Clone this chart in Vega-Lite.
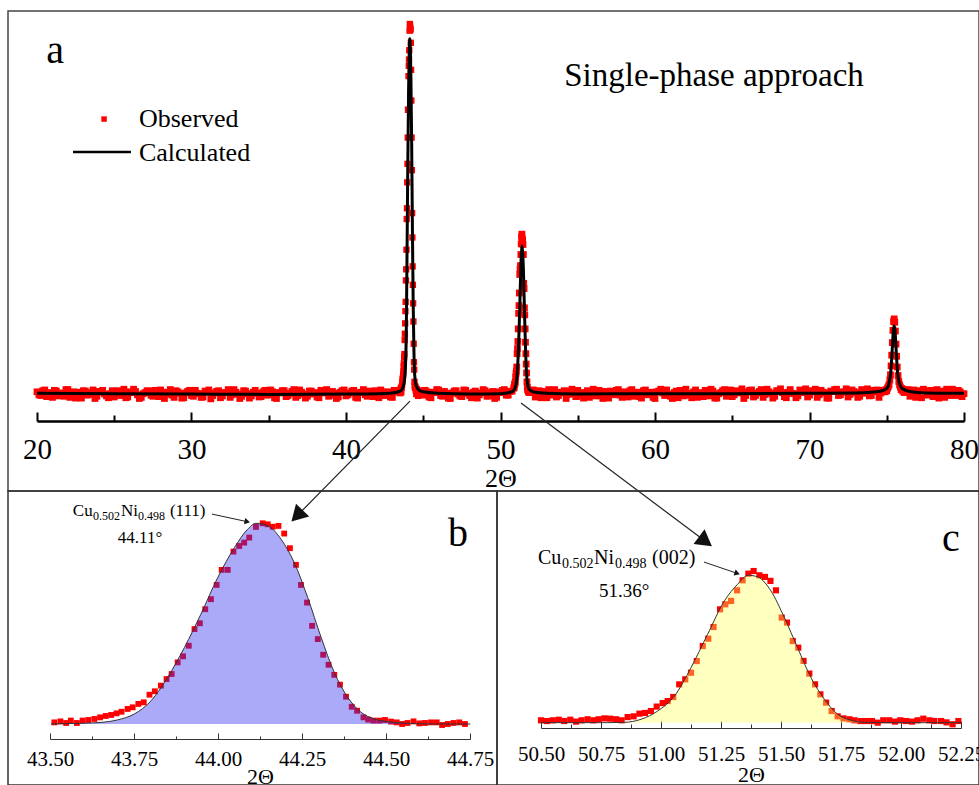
{
"$schema":"https://vega.github.io/schema/vega-lite/v6.json",
"padding":{"left":7,"top":10,"right":0,"bottom":0},
"background":"white",
"config":{"font":"Liberation Serif","axis":{"labelFont":"Liberation Serif","titleFont":"Liberation Serif"},"style":{"guide-label":{"font":"Liberation Serif"},"guide-title":{"font":"Liberation Serif"}}},
"datasets":{
"abg":[{"t":20,"v":0.6},{"t":20.125,"v":-0.2},{"t":20.25,"v":-0.4},{"t":20.375,"v":0.9},{"t":20.5,"v":1.1},{"t":20.625,"v":-0.7},{"t":20.75,"v":0.2},{"t":20.875,"v":0.4},{"t":21,"v":-0.9},{"t":21.125,"v":1.0},{"t":21.25,"v":0.8},{"t":21.375,"v":-0.5},{"t":21.5,"v":0.3},{"t":21.625,"v":0.1},{"t":21.75,"v":-0.6},{"t":21.875,"v":1.2},{"t":22,"v":1.2},{"t":22.125,"v":-0.9},{"t":22.25,"v":0.0},{"t":22.375,"v":0.6},{"t":22.5,"v":-1.1},{"t":22.625,"v":0.3},{"t":22.75,"v":0.5},{"t":22.875,"v":-1.1},{"t":23,"v":0.9},{"t":23.125,"v":0.8},{"t":23.25,"v":-0.3},{"t":23.375,"v":-0.1},{"t":23.5,"v":0.4},{"t":23.625,"v":1.1},{"t":23.75,"v":-1.2},{"t":23.875,"v":-0.6},{"t":24,"v":0.7},{"t":24.125,"v":0.5},{"t":24.25,"v":1.0},{"t":24.375,"v":0.0},{"t":24.5,"v":-0.5},{"t":24.625,"v":-1.0},{"t":24.75,"v":0.1},{"t":24.875,"v":0.9},{"t":25,"v":-0.8},{"t":25.125,"v":0.2},{"t":25.25,"v":0.9},{"t":25.375,"v":-0.4},{"t":25.5,"v":0.3},{"t":25.625,"v":1.3},{"t":25.75,"v":-1.0},{"t":25.875,"v":-0.8},{"t":26,"v":0.6},{"t":26.125,"v":0.4},{"t":26.25,"v":1.3},{"t":26.375,"v":0.7},{"t":26.5,"v":-0.2},{"t":26.625,"v":-1.2},{"t":26.75,"v":-0.9},{"t":26.875,"v":0.1},{"t":27,"v":0.4},{"t":27.125,"v":0.9},{"t":27.25,"v":0.8},{"t":27.375,"v":-0.3},{"t":27.5,"v":-0.6},{"t":27.625,"v":1.0},{"t":27.75,"v":0.0},{"t":27.875,"v":-0.7},{"t":28,"v":1.1},{"t":28.125,"v":0.5},{"t":28.25,"v":-1.2},{"t":28.375,"v":-0.1},{"t":28.5,"v":0.5},{"t":28.625,"v":1.2},{"t":28.75,"v":-0.3},{"t":28.875,"v":-0.9},{"t":29,"v":0.9},{"t":29.125,"v":0.6},{"t":29.25,"v":0.2},{"t":29.375,"v":-1.1},{"t":29.5,"v":-1.0},{"t":29.625,"v":0.3},{"t":29.75,"v":0.7},{"t":29.875,"v":1.0},{"t":30,"v":-0.4},{"t":30.125,"v":-0.6},{"t":30.25,"v":1.0},{"t":30.375,"v":0.2},{"t":30.5,"v":0.1},{"t":30.625,"v":-0.9},{"t":30.75,"v":-0.8},{"t":30.875,"v":0.8},{"t":31,"v":0.6},{"t":31.125,"v":1.1},{"t":31.25,"v":-1.3},{"t":31.375,"v":-0.4},{"t":31.5,"v":0.3},{"t":31.625,"v":0.7},{"t":31.75,"v":0.9},{"t":31.875,"v":-1.0},{"t":32,"v":-0.5},{"t":32.125,"v":0.4},{"t":32.25,"v":0.4},{"t":32.375,"v":1.2},{"t":32.5,"v":-0.9},{"t":32.625,"v":-0.2},{"t":32.75,"v":1.2},{"t":32.875,"v":0.5},{"t":33,"v":0.0},{"t":33.125,"v":-1.2},{"t":33.25,"v":-0.6},{"t":33.375,"v":0.9},{"t":33.5,"v":0.8},{"t":33.625,"v":0.1},{"t":33.75,"v":-1.1},{"t":33.875,"v":-0.5},{"t":34,"v":0.5},{"t":34.125,"v":1.0},{"t":34.25,"v":0.2},{"t":34.375,"v":-0.8},{"t":34.5,"v":-0.7},{"t":34.625,"v":0.6},{"t":34.75,"v":1.0},{"t":34.875,"v":-0.3},{"t":35,"v":-0.2},{"t":35.125,"v":1.1},{"t":35.25,"v":0.6},{"t":35.375,"v":-1.0},{"t":35.5,"v":-1.2},{"t":35.625,"v":0.4},{"t":35.75,"v":0.3},{"t":35.875,"v":0.9},{"t":36,"v":0.9},{"t":36.125,"v":-0.7},{"t":36.25,"v":-0.4},{"t":36.375,"v":0.2},{"t":36.5,"v":0.7},{"t":36.625,"v":1.2},{"t":36.75,"v":-0.9},{"t":36.875,"v":-0.4},{"t":37,"v":1.1},{"t":37.125,"v":0.5},{"t":37.25,"v":0.0},{"t":37.375,"v":-1.1},{"t":37.5,"v":-0.6},{"t":37.625,"v":0.8},{"t":37.75,"v":0.8},{"t":37.875,"v":0.0},{"t":38,"v":0.4},{"t":38.125,"v":-0.8},{"t":38.25,"v":-1.0},{"t":38.375,"v":1.0},{"t":38.5,"v":0.6},{"t":38.625,"v":0.3},{"t":38.75,"v":1.2},{"t":38.875,"v":-0.6},{"t":39,"v":-0.3},{"t":39.125,"v":0.7},{"t":39.25,"v":0.2},{"t":39.375,"v":-1.2},{"t":39.5,"v":-0.8},{"t":39.625,"v":0.5},{"t":39.75,"v":0.9},{"t":39.875,"v":1.1},{"t":40,"v":-0.5},{"t":40.125,"v":-0.2},{"t":40.25,"v":0.3},{"t":40.375,"v":0.8},{"t":40.5,"v":1.0},{"t":40.625,"v":-0.9},{"t":40.75,"v":-1.1},{"t":40.875,"v":0.4},{"t":41,"v":0.5},{"t":41.125,"v":1.2},{"t":41.25,"v":-0.2},{"t":41.375,"v":-0.6},{"t":41.5,"v":0.8},{"t":41.625,"v":0.1},{"t":41.75,"v":-0.7},{"t":41.875,"v":0.9},{"t":42,"v":0.4},{"t":42.125,"v":-1.0},{"t":42.25,"v":1.1},{"t":42.375,"v":0.6},{"t":42.5,"v":-0.4},{"t":42.625,"v":0.2},{"t":42.75,"v":0.6},{"t":42.875,"v":-0.8},{"t":43,"v":-0.9},{"t":43.125,"v":1.0},{"t":43.25,"v":0.7},{"t":43.375,"v":0.5},{"t":43.5,"v":0.3},
{"t":44.75,"v":0.9},{"t":44.875,"v":0.3},{"t":45,"v":-0.3},{"t":45.125,"v":1.0},{"t":45.25,"v":0.6},{"t":45.375,"v":-0.8},{"t":45.5,"v":-1.0},{"t":45.625,"v":0.5},{"t":45.75,"v":0.4},{"t":45.875,"v":1.2},{"t":46,"v":1.1},{"t":46.125,"v":-0.4},{"t":46.25,"v":-0.6},{"t":46.375,"v":0.7},{"t":46.5,"v":0.2},{"t":46.625,"v":-1.1},{"t":46.75,"v":-1.2},{"t":46.875,"v":0.3},{"t":47,"v":0.8},{"t":47.125,"v":0.9},{"t":47.25,"v":0.0},{"t":47.375,"v":-0.5},{"t":47.5,"v":-0.7},{"t":47.625,"v":1.1},{"t":47.75,"v":1.0},{"t":47.875,"v":0.2},{"t":48,"v":-0.4},{"t":48.125,"v":-1.0},{"t":48.25,"v":0.5},{"t":48.375,"v":0.8},{"t":48.5,"v":-1.1},{"t":48.625,"v":-0.2},{"t":48.75,"v":0.3},{"t":48.875,"v":1.2},{"t":49,"v":0.9},{"t":49.125,"v":-0.6},{"t":49.25,"v":-0.5},{"t":49.375,"v":0.4},{"t":49.5,"v":0.7},{"t":49.625,"v":-1.2},{"t":49.75,"v":-0.9},{"t":49.875,"v":0.6},{"t":50,"v":0.4},{"t":50.125,"v":1.0},{"t":50.25,"v":1.2},{"t":50.375,"v":-0.3},{"t":50.5,"v":-0.3},{"t":50.625,"v":0.7},{"t":50.75,"v":0.8},
{"t":50.861,"v":1.6},{"t":50.886,"v":1.8},{"t":50.91,"v":2.6},{"t":50.933,"v":2.8},{"t":50.958,"v":3.3},{"t":50.982,"v":4.6},{"t":51.007,"v":5.6},{"t":51.028,"v":6.2},{"t":51.051,"v":7.3},{"t":51.076,"v":10.9},{"t":51.101,"v":12.3},{"t":51.125,"v":14.2},{"t":51.149,"v":17.6},{"t":51.174,"v":21.8},{"t":51.197,"v":23.9},{"t":51.219,"v":27.3},{"t":51.246,"v":32.3},{"t":51.268,"v":33.7},{"t":51.292,"v":34.7},{"t":51.317,"v":37.7},{"t":51.34,"v":40.6},{"t":51.364,"v":42.5},{"t":51.386,"v":43.2},{"t":51.41,"v":42.0},{"t":51.433,"v":41.5},{"t":51.456,"v":40.4},{"t":51.479,"v":37.7},{"t":51.503,"v":29.9},{"t":51.525,"v":28.5},{"t":51.549,"v":23.3},{"t":51.572,"v":21.4},{"t":51.594,"v":17.6},{"t":51.618,"v":14.0},{"t":51.642,"v":10.9},{"t":51.664,"v":8.1},{"t":51.688,"v":5.7},{"t":51.711,"v":3.3},{"t":51.736,"v":1.8},{"t":51.76,"v":1.2},{"t":51.785,"v":1.0},{"t":51.806,"v":0.7},{"t":51.831,"v":0.5},
{"t":51.875,"v":0.4},{"t":52,"v":0.5},{"t":52.125,"v":1.1},{"t":52.25,"v":-0.8},{"t":52.375,"v":0.2},{"t":52.5,"v":0.9},{"t":52.625,"v":-1.0},{"t":52.75,"v":0.1},{"t":52.875,"v":0.7},{"t":53,"v":-1.0},{"t":53.125,"v":1.2},{"t":53.25,"v":0.6},{"t":53.375,"v":-0.3},{"t":53.5,"v":1.2},{"t":53.625,"v":-0.8},{"t":53.75,"v":-0.4},{"t":53.875,"v":0.5},{"t":54,"v":0.3},{"t":54.125,"v":0.9},{"t":54.25,"v":-1.2},{"t":54.375,"v":-0.1},{"t":54.5,"v":0.8},{"t":54.625,"v":1.3},{"t":54.75,"v":0.0},{"t":54.875,"v":-0.7},{"t":55,"v":1.0},{"t":55.125,"v":0.4},{"t":55.25,"v":-0.6},{"t":55.375,"v":-1.1},{"t":55.5,"v":0.4},{"t":55.625,"v":0.9},{"t":55.75,"v":-0.9},{"t":55.875,"v":0.2},{"t":56,"v":1.3},{"t":56.125,"v":-0.5},{"t":56.25,"v":0.2},{"t":56.375,"v":1.0},{"t":56.5,"v":-0.5},{"t":56.625,"v":-1.2},{"t":56.75,"v":0.7},{"t":56.875,"v":0.3},{"t":57,"v":-1.1},{"t":57.125,"v":0.8},{"t":57.25,"v":0.5},{"t":57.375,"v":-0.2},{"t":57.5,"v":1.0},{"t":57.625,"v":1.2},{"t":57.75,"v":-0.3},{"t":57.875,"v":-0.9},{"t":58,"v":0.6},{"t":58.125,"v":0.1},{"t":58.25,"v":-0.8},{"t":58.375,"v":0.9},{"t":58.5,"v":1.2},{"t":58.625,"v":-0.6},{"t":58.75,"v":0.1},{"t":58.875,"v":0.5},{"t":59,"v":-0.7},{"t":59.125,"v":-1.1},{"t":59.25,"v":0.9},{"t":59.375,"v":1.1},{"t":59.5,"v":-0.2},{"t":59.625,"v":0.3},{"t":59.75,"v":0.5},{"t":59.875,"v":-0.9},{"t":60,"v":-1.2},{"t":60.125,"v":0.6},{"t":60.25,"v":0.8},{"t":60.375,"v":1.3},{"t":60.5,"v":0.3},{"t":60.625,"v":-0.4},{"t":60.75,"v":1.1},{"t":60.875,"v":0.0},{"t":61,"v":-0.6},{"t":61.125,"v":-1.2},{"t":61.25,"v":0.4},{"t":61.375,"v":0.8},{"t":61.5,"v":-1.0},{"t":61.625,"v":1.0},{"t":61.75,"v":0.7},{"t":61.875,"v":-0.5},{"t":62,"v":1.3},{"t":62.125,"v":0.2},{"t":62.25,"v":-0.3},{"t":62.375,"v":-1.0},{"t":62.5,"v":0.6},{"t":62.625,"v":1.1},{"t":62.75,"v":-0.9},{"t":62.875,"v":0.4},{"t":63,"v":0.2},{"t":63.125,"v":-0.7},{"t":63.25,"v":1.0},{"t":63.375,"v":0.6},{"t":63.5,"v":-0.5},{"t":63.625,"v":1.3},{"t":63.75,"v":0.8},{"t":63.875,"v":-1.1},{"t":64,"v":-1.1},{"t":64.125,"v":0.1},{"t":64.25,"v":0.4},{"t":64.375,"v":0.9},{"t":64.5,"v":1.2},{"t":64.625,"v":-0.6},{"t":64.75,"v":0.0},{"t":64.875,"v":1.1},{"t":65,"v":-0.7},{"t":65.125,"v":-0.2},{"t":65.25,"v":0.9},{"t":65.375,"v":0.5},{"t":65.5,"v":0.3},{"t":65.625,"v":1.4},{"t":65.75,"v":-1.2},{"t":65.875,"v":-0.4},{"t":66,"v":0.6},{"t":66.125,"v":1.0},{"t":66.25,"v":1.1},{"t":66.375,"v":-0.8},{"t":66.5,"v":-0.4},{"t":66.625,"v":0.3},{"t":66.75,"v":0.7},{"t":66.875,"v":1.2},{"t":67,"v":-0.9},{"t":67.125,"v":-0.1},{"t":67.25,"v":1.3},{"t":67.375,"v":0.6},{"t":67.5,"v":0.2},{"t":67.625,"v":-1.1},{"t":67.75,"v":-0.6},{"t":67.875,"v":0.9},{"t":68,"v":0.9},{"t":68.125,"v":1.4},{"t":68.25,"v":0.4},{"t":68.375,"v":-0.7},{"t":68.5,"v":-1.0},{"t":68.625,"v":0.5},{"t":68.75,"v":1.2},{"t":68.875,"v":0.2},{"t":69,"v":0.1},{"t":69.125,"v":-1.0},{"t":69.25,"v":-0.5},{"t":69.375,"v":1.1},{"t":69.5,"v":0.8},{"t":69.625,"v":0.4},{"t":69.75,"v":1.4},{"t":69.875,"v":-0.8},{"t":70,"v":-0.3},{"t":70.125,"v":0.9},{"t":70.25,"v":0.6},{"t":70.375,"v":1.3},{"t":70.5,"v":-0.9},{"t":70.625,"v":-0.2},{"t":70.75,"v":1.0},{"t":70.875,"v":0.5},{"t":71,"v":0.3},{"t":71.125,"v":-1.1},{"t":71.25,"v":-1.1},{"t":71.375,"v":0.8},{"t":71.5,"v":0.7},{"t":71.625,"v":1.2},{"t":71.75,"v":1.3},{"t":71.875,"v":-0.4},{"t":72,"v":-0.2},{"t":72.125,"v":0.6},{"t":72.25,"v":0.5},{"t":72.375,"v":1.4},{"t":72.5,"v":-0.8},{"t":72.625,"v":-0.1},{"t":72.75,"v":1.1},{"t":72.875,"v":0.7},{"t":73,"v":0.4},{"t":73.125,"v":-0.9},{"t":73.25,"v":-0.6},{"t":73.375,"v":1.2},{"t":73.5,"v":0.9},{"t":73.625,"v":0.2},{"t":73.75,"v":1.4},{"t":73.875,"v":-0.5},{"t":74,"v":-0.4},{"t":74.125,"v":1.0},{"t":74.25,"v":0.6},{"t":74.375,"v":1.1},{"t":74.5,"v":-0.9},{"t":74.625,"v":0.3},{"t":74.75,"v":1.0},
{"t":74.9,"v":0.6},{"t":74.95,"v":1.2},{"t":75.0,"v":0.9},{"t":75.05,"v":1.6},{"t":75.1,"v":2.0},{"t":75.15,"v":2.6},{"t":75.2,"v":3.8},{"t":75.24,"v":5.2},{"t":75.28,"v":7.6},{"t":75.32,"v":10.5},{"t":75.36,"v":13.9},{"t":75.4,"v":17.2},{"t":75.44,"v":19.6},{"t":75.48,"v":20.3},{"t":75.52,"v":19.4},{"t":75.56,"v":17.0},{"t":75.6,"v":13.5},{"t":75.64,"v":10.2},{"t":75.68,"v":7.3},{"t":75.73,"v":5.0},{"t":75.78,"v":3.4},{"t":75.83,"v":2.5},{"t":75.88,"v":1.9},{"t":75.93,"v":1.2},{"t":75.98,"v":1.5},{"t":76.03,"v":0.8},{"t":76.08,"v":1.1},
{"t":76.125,"v":0.4},{"t":76.25,"v":0.7},{"t":76.375,"v":1.2},{"t":76.5,"v":-0.6},{"t":76.625,"v":0.3},{"t":76.75,"v":1.1},{"t":76.875,"v":-0.9},{"t":77,"v":0.2},{"t":77.125,"v":0.9},{"t":77.25,"v":-1.0},{"t":77.375,"v":1.3},{"t":77.5,"v":0.9},{"t":77.625,"v":-0.3},{"t":77.75,"v":0.4},{"t":77.875,"v":1.0},{"t":78,"v":-0.7},{"t":78.125,"v":0.6},{"t":78.25,"v":1.2},{"t":78.375,"v":-1.1},{"t":78.5,"v":0.0},{"t":78.625,"v":0.8},{"t":78.75,"v":-0.9},{"t":78.875,"v":1.3},{"t":79,"v":0.8},{"t":79.125,"v":-0.4},{"t":79.25,"v":1.3},{"t":79.375,"v":0.5},{"t":79.5,"v":-0.4},{"t":79.625,"v":1.0},{"t":79.75,"v":0.6},{"t":79.875,"v":-0.7},{"t":80,"v":0.1}],
"acal":[{"t":20,"v":0.2},{"t":25,"v":0.1},{"t":30,"v":0},{"t":35,"v":-0.1},{"t":40,"v":0},{"t":42,"v":0.1},{"t":43,"v":0.3},{"t":43.5,"v":0.8},{"t":43.7,"v":2.0},{"t":43.8,"v":4.5},{"t":43.85,"v":8},{"t":43.9,"v":16},{"t":43.95,"v":38},{"t":44.0,"v":62},{"t":44.05,"v":82},{"t":44.1,"v":94},{"t":44.13,"v":96},{"t":44.16,"v":94},{"t":44.2,"v":86},{"t":44.25,"v":68},{"t":44.3,"v":44},{"t":44.35,"v":24},{"t":44.4,"v":11},{"t":44.45,"v":5},{"t":44.55,"v":2.2},{"t":44.7,"v":1.2},{"t":45,"v":0.6},{"t":46,"v":0.2},{"t":48,"v":0},{"t":50,"v":0.1},{"t":50.6,"v":0.4},{"t":50.9,"v":1.2},{"t":51.0,"v":2.5},{"t":51.1,"v":6.5},{"t":51.15,"v":11},{"t":51.2,"v":17},{"t":51.25,"v":24},{"t":51.3,"v":32},{"t":51.35,"v":38},{"t":51.39,"v":40},{"t":51.43,"v":38.5},{"t":51.48,"v":34},{"t":51.53,"v":26},{"t":51.58,"v":18},{"t":51.63,"v":11},{"t":51.68,"v":6},{"t":51.75,"v":2.8},{"t":51.85,"v":1.3},{"t":52.1,"v":0.6},{"t":53,"v":0.2},{"t":55,"v":0},{"t":60,"v":0.1},{"t":65,"v":0.1},{"t":70,"v":0.2},{"t":73,"v":0.3},{"t":74.5,"v":0.7},{"t":75.0,"v":1.5},{"t":75.15,"v":3},{"t":75.25,"v":5.5},{"t":75.32,"v":9.5},{"t":75.38,"v":14},{"t":75.43,"v":17.3},{"t":75.48,"v":18.4},{"t":75.53,"v":17.3},{"t":75.58,"v":14},{"t":75.64,"v":9.5},{"t":75.71,"v":5.5},{"t":75.81,"v":3},{"t":76.0,"v":1.5},{"t":76.5,"v":0.7},{"t":77.5,"v":0.3},{"t":80,"v":0.2}],
"bobs":[{"t":43.513,"v":0.8},{"t":43.531,"v":1.3},{"t":43.548,"v":0.5},{"t":43.562,"v":1.7},{"t":43.58,"v":0.5},{"t":43.597,"v":1.7},{"t":43.614,"v":2.0},{"t":43.632,"v":2.5},{"t":43.649,"v":3.3},{"t":43.666,"v":4.0},{"t":43.682,"v":4.5},{"t":43.698,"v":5.3},{"t":43.713,"v":6.1},{"t":43.731,"v":7.5},{"t":43.746,"v":8.3},{"t":43.763,"v":10.0},{"t":43.779,"v":10.8},{"t":43.796,"v":14.6},{"t":43.812,"v":16.3},{"t":43.83,"v":19.1},{"t":43.847,"v":22.4},{"t":43.862,"v":24.9},{"t":43.88,"v":30.7},{"t":43.896,"v":33.7},{"t":43.913,"v":39.0},{"t":43.93,"v":47.3},{"t":43.946,"v":50.2},{"t":43.962,"v":57.2},{"t":43.979,"v":62.2},{"t":43.996,"v":69.3},{"t":44.011,"v":76.8},{"t":44.029,"v":76.8},{"t":44.046,"v":85.9},{"t":44.063,"v":88.7},{"t":44.078,"v":90.4},{"t":44.093,"v":92.9},{"t":44.113,"v":98.2},{"t":44.133,"v":100.0},{"t":44.148,"v":99.5},{"t":44.163,"v":98.3},{"t":44.18,"v":98.7},{"t":44.197,"v":94.9},{"t":44.214,"v":87.6},{"t":44.232,"v":79.3},{"t":44.247,"v":69.3},{"t":44.265,"v":60.5},{"t":44.28,"v":48.9},{"t":44.297,"v":42.3},{"t":44.313,"v":34.5},{"t":44.329,"v":29.5},{"t":44.346,"v":24.5},{"t":44.363,"v":19.6},{"t":44.381,"v":13.6},{"t":44.398,"v":8.6},{"t":44.414,"v":6.6},{"t":44.433,"v":3.3},{"t":44.447,"v":2.2},{"t":44.463,"v":1.7},{"t":44.48,"v":1.7},{"t":44.497,"v":2.0},{"t":44.515,"v":1.2},{"t":44.532,"v":0.8},{"t":44.548,"v":0.0},{"t":44.564,"v":0.5},{"t":44.582,"v":1.3},{"t":44.599,"v":0.3},{"t":44.616,"v":0.5},{"t":44.634,"v":0.8},{"t":44.651,"v":0.8},{"t":44.667,"v":-0.5},{"t":44.684,"v":0.0},{"t":44.701,"v":0.5},{"t":44.718,"v":0.8},{"t":44.735,"v":0.0}],
"bcal":[{"t":43.503,"v":0},{"t":43.55,"v":0.2},{"t":43.6,"v":0.4},{"t":43.652,"v":0.8},{"t":43.7,"v":2.0},{"t":43.751,"v":5.0},{"t":43.801,"v":11.6},{"t":43.85,"v":23.2},{"t":43.9,"v":38.1},{"t":43.949,"v":54.7},{"t":43.999,"v":72.9},{"t":44.049,"v":87.9},{"t":44.088,"v":97.0},{"t":44.113,"v":100},{"t":44.148,"v":98.8},{"t":44.188,"v":92.0},{"t":44.227,"v":80.4},{"t":44.267,"v":63.0},{"t":44.307,"v":43.1},{"t":44.346,"v":25.7},{"t":44.386,"v":13.3},{"t":44.426,"v":5.8},{"t":44.465,"v":2.5},{"t":44.505,"v":1.2},{"t":44.545,"v":0.5},{"t":44.644,"v":0},{"t":44.751,"v":0}],
"cobs":[{"t":50.5,"v":1.6},{"t":50.525,"v":1.1},{"t":50.549,"v":1.6},{"t":50.574,"v":2.0},{"t":50.597,"v":1.1},{"t":50.622,"v":2.0},{"t":50.646,"v":0.7},{"t":50.669,"v":1.6},{"t":50.694,"v":2.3},{"t":50.718,"v":1.6},{"t":50.74,"v":2.3},{"t":50.764,"v":2.9},{"t":50.788,"v":2.7},{"t":50.813,"v":2.3},{"t":50.836,"v":1.6},{"t":50.861,"v":3.8},{"t":50.886,"v":4.3},{"t":50.91,"v":6.1},{"t":50.933,"v":6.6},{"t":50.958,"v":7.9},{"t":50.982,"v":10.9},{"t":51.007,"v":13.3},{"t":51.028,"v":14.7},{"t":51.051,"v":17.4},{"t":51.076,"v":26.0},{"t":51.101,"v":29.4},{"t":51.125,"v":33.9},{"t":51.149,"v":41.8},{"t":51.174,"v":52.0},{"t":51.197,"v":57.0},{"t":51.219,"v":64.9},{"t":51.246,"v":76.9},{"t":51.268,"v":80.3},{"t":51.292,"v":82.6},{"t":51.317,"v":89.8},{"t":51.34,"v":96.6},{"t":51.364,"v":101.1},{"t":51.386,"v":102.9},{"t":51.41,"v":100.0},{"t":51.433,"v":98.9},{"t":51.456,"v":96.2},{"t":51.479,"v":89.8},{"t":51.503,"v":71.3},{"t":51.525,"v":67.9},{"t":51.549,"v":55.4},{"t":51.572,"v":50.9},{"t":51.594,"v":41.9},{"t":51.618,"v":33.3},{"t":51.642,"v":26.0},{"t":51.664,"v":19.2},{"t":51.688,"v":13.6},{"t":51.711,"v":7.9},{"t":51.736,"v":4.3},{"t":51.76,"v":2.9},{"t":51.785,"v":2.3},{"t":51.806,"v":1.6},{"t":51.831,"v":1.1},{"t":51.854,"v":1.1},{"t":51.879,"v":1.1},{"t":51.903,"v":0.0},{"t":51.926,"v":1.6},{"t":51.951,"v":1.6},{"t":51.975,"v":0.7},{"t":51.997,"v":1.6},{"t":52.021,"v":1.1},{"t":52.046,"v":0.7},{"t":52.069,"v":1.6},{"t":52.093,"v":2.7},{"t":52.118,"v":1.6},{"t":52.139,"v":1.1},{"t":52.167,"v":1.1},{"t":52.19,"v":0.2},{"t":52.215,"v":-1.1},{"t":52.239,"v":1.1}],
"ccal":[{"t":50.5,"v":0},{"t":50.778,"v":0},{"t":50.847,"v":0.2},{"t":50.917,"v":2.3},{"t":50.986,"v":7.9},{"t":51.056,"v":18.1},{"t":51.125,"v":37.3},{"t":51.194,"v":59.9},{"t":51.264,"v":82.6},{"t":51.319,"v":93.9},{"t":51.364,"v":100},{"t":51.403,"v":98.9},{"t":51.458,"v":89.4},{"t":51.514,"v":71.3},{"t":51.569,"v":50.9},{"t":51.625,"v":30.5},{"t":51.681,"v":15.8},{"t":51.736,"v":5.7},{"t":51.792,"v":1.6},{"t":51.847,"v":0.2},{"t":51.958,"v":0},{"t":52.25,"v":0}]
},
"vconcat":[
{
"width":971,"height":480,
"view":{"stroke":"#444","strokeWidth":1.5},
"encoding":{
"x":{"field":"t","type":"quantitative","scale":{"domain":[20,80],"range":[29,956],"nice":false,"zero":false},"axis":null},
"y":{"field":"v","type":"quantitative","scale":{"domain":[-26.2,103.5],"nice":false,"zero":false},"axis":null}
},
"resolve":{"axis":{"x":"independent"}},
"layer":[
{"data":{"name":"abg"},"mark":{"type":"point","shape":"square","filled":true,"color":"#f00","size":46,"opacity":1},
"encoding":{"x":{"field":"t","type":"quantitative","scale":{"domain":[20,80],"range":[29,956],"nice":false,"zero":false},
"axis":{"orient":"bottom","offset":-70,"values":[20,30,40,50,60,70,80],"tickSize":-9,"tickWidth":2,"tickColor":"#000","domainColor":"#000","domainWidth":2.5,"labelFont":"Liberation Serif","labelFontSize":29,"labelColor":"#000","labelPadding":23,"labelFlush":false,"labelOverlap":false,"title":"2Θ","titleFont":"Liberation Serif","titleFontSize":26,"titleFontWeight":"normal","titleColor":"#000","titleY":57,"titleBaseline":"middle","grid":false,
"encode":{"labels":{"update":{"font":{"value":"Liberation Serif"}}},"title":{"update":{"font":{"value":"Liberation Serif"}}}}}}}},
{"data":{"name":"bobs"},"mark":{"type":"point","shape":"square","filled":true,"color":"#f00","size":40,"opacity":1},
"encoding":{"x":{"field":"t","type":"quantitative","scale":{"domain":[20,80],"range":[29,956],"nice":false,"zero":false},
"axis":{"orient":"bottom","offset":-70,"values":[25,35,45,55,65,75],"tickSize":-6,"tickWidth":2,"tickColor":"#000","labels":false,"domain":false,"title":null,"grid":false}}}},
{"data":{"name":"acal"},"mark":{"type":"line","color":"#000","strokeWidth":3,"interpolate":"monotone"}},
{"data":{"values":[{"t":24.34,"v":74.3}]},"mark":{"type":"point","shape":"square","filled":true,"color":"#f00","size":30,"opacity":1}},
{"data":{"values":[{"t":22.33,"t2":26.08,"v":65.4}]},"mark":{"type":"rule","color":"#000","strokeWidth":2.5},"encoding":{"x2":{"field":"t2"}}},
{"data":{"values":[{"t":26.6,"v":74.3,"s":"Observed"},{"t":26.6,"v":65.1,"s":"Calculated"}]},"mark":{"type":"text","align":"left","baseline":"middle","fontSize":26,"color":"#000"},"encoding":{"text":{"field":"s"}}},
{"data":{"values":[{"t":21.17,"v":92.7,"s":"a"}]},"mark":{"type":"text","align":"center","baseline":"middle","fontSize":40,"color":"#000"},"encoding":{"text":{"field":"s"}}},
{"data":{"values":[{"t":63.82,"v":85.9,"s":"Single-phase approach"}]},"mark":{"type":"text","align":"center","baseline":"middle","fontSize":33,"color":"#000"},"encoding":{"text":{"field":"s"}}},
{"data":{"values":[{"t":44.14,"v":-1.9,"t2":36.95,"v2":-32.4},{"t":51.33,"v":-2.4,"t2":63.13,"v2":-39.4}]},"mark":{"type":"rule","color":"#222","strokeWidth":1.2},"encoding":{"x2":{"field":"t2"},"y2":{"field":"v2"}}},
{"data":{"values":[{"t":36.95,"v":-32.4}]},"mark":{"type":"point","shape":"triangle","filled":true,"color":"#111","size":340,"angle":224.5,"opacity":1}},
{"data":{"values":[{"t":63.13,"v":-39.4}]},"mark":{"type":"point","shape":"triangle","filled":true,"color":"#111","size":340,"angle":126.5,"opacity":1}}
]
},
{
"hconcat":[
{
"width":489,"height":294,
"view":{"stroke":"#333","strokeWidth":1.5},
"encoding":{
"x":{"field":"t","type":"quantitative","scale":{"domain":[43.5,44.75],"range":[42,462],"nice":false,"zero":false},"axis":null},
"y":{"field":"v","type":"quantitative","scale":{"domain":[-30.4,116.1],"nice":false,"zero":false},"axis":null}
},
"resolve":{"axis":{"x":"independent"}},
"layer":[
{"data":{"name":"bobs"},"mark":{"type":"point","shape":"square","filled":true,"color":"#f00","size":34,"opacity":1},
"encoding":{"x":{"field":"t","type":"quantitative","scale":{"domain":[43.5,44.75],"range":[42,462],"nice":false,"zero":false},
"axis":{"orient":"bottom","offset":-46,"values":[43.5,43.75,44,44.25,44.5,44.75],"format":".2f","tickSize":-6,"tickWidth":1,"tickColor":"#333","domainColor":"#333","domainWidth":1.2,"labelFont":"Liberation Serif","labelFontSize":21,"labelColor":"#000","labelPadding":15,"labelFlush":false,"labelOverlap":false,"title":"2Θ","titleFont":"Liberation Serif","titleFontSize":22,"titleFontWeight":"normal","titleColor":"#000","titleY":37,"titleBaseline":"middle","grid":false,
"encode":{"labels":{"update":{"font":{"value":"Liberation Serif"}}},"title":{"update":{"font":{"value":"Liberation Serif"}}}}}}}},
{"data":{"name":"bcal"},"mark":{"type":"area","color":"#3131ef","opacity":0.41,"interpolate":"monotone"},
"encoding":{"x":{"field":"t","type":"quantitative","scale":{"domain":[43.5,44.75],"range":[42,462],"nice":false,"zero":false},
"axis":{"orient":"bottom","offset":-46,"values":[43.625,43.875,44.125,44.375,44.625],"tickSize":-3,"tickWidth":1,"tickColor":"#333","labels":false,"domain":false,"title":null,"grid":false}},"y2":{"datum":0}}},
{"data":{"name":"bcal"},"mark":{"type":"line","color":"#333","strokeWidth":1,"interpolate":"monotone"}},
{"data":{"values":[{"t":43.568,"v":103.5,"s":"Cu"},{"t":43.711,"v":103.5,"s":"Ni"},{"t":43.857,"v":103.5,"s":"(111)"},{"t":43.702,"v":90.0,"s":"44.11°"}]},"mark":{"type":"text","align":"left","baseline":"alphabetic","fontSize":17,"color":"#000"},"encoding":{"text":{"field":"s"}}},
{"data":{"values":[{"t":43.628,"v":101.5,"s":"0.502"},{"t":43.762,"v":101.5,"s":"0.498"}]},"mark":{"type":"text","align":"left","baseline":"alphabetic","fontSize":12,"color":"#000"},"encoding":{"text":{"field":"s"}}},
{"data":{"values":[{"t":44.714,"v":94.7,"s":"b"}]},"mark":{"type":"text","align":"center","baseline":"middle","fontSize":40,"color":"#000"},"encoding":{"text":{"field":"s"}}},
{"data":{"values":[{"t":43.982,"v":104.6,"t2":44.0845,"v2":100.9}]},"mark":{"type":"rule","color":"#222","strokeWidth":1},"encoding":{"x2":{"field":"t2"},"y2":{"field":"v2"}}},
{"data":{"values":[{"t":44.0845,"v":100.9}]},"mark":{"type":"point","shape":"triangle","filled":true,"color":"#111","size":40,"angle":102,"opacity":1}}
]
},
{
"width":482,"height":294,
"view":{"stroke":"#333","strokeWidth":1.5},
"encoding":{
"x":{"field":"t","type":"quantitative","scale":{"domain":[50.5,52.25],"range":[44,464],"nice":false,"zero":false},"axis":null},
"y":{"field":"v","type":"quantitative","scale":{"domain":[-42.3,157.2],"nice":false,"zero":false},"axis":null}
},
"resolve":{"axis":{"x":"independent"}},
"layer":[
{"data":{"name":"cobs"},"mark":{"type":"point","shape":"square","filled":true,"color":"#f00","size":38,"opacity":1},
"encoding":{"x":{"field":"t","type":"quantitative","scale":{"domain":[50.5,52.25],"range":[44,464],"nice":false,"zero":false},
"axis":{"orient":"bottom","offset":-57,"values":[50.5,50.75,51,51.25,51.5,51.75,52,52.25],"format":".2f","tickSize":-7,"tickWidth":1,"tickColor":"#333","domainColor":"#333","domainWidth":1.2,"labelFont":"Liberation Serif","labelFontSize":21,"labelColor":"#000","labelPadding":22,"labelFlush":false,"labelOverlap":false,"title":"2Θ","titleFont":"Liberation Serif","titleFontSize":22,"titleFontWeight":"normal","titleColor":"#000","titleY":46,"titleBaseline":"middle","grid":false,
"encode":{"labels":{"update":{"font":{"value":"Liberation Serif"}}},"title":{"update":{"font":{"value":"Liberation Serif"}}}}}}}},
{"data":{"name":"ccal"},"mark":{"type":"area","color":"#ffff5e","opacity":0.39,"interpolate":"monotone"},
"encoding":{"x":{"field":"t","type":"quantitative","scale":{"domain":[50.5,52.25],"range":[44,464],"nice":false,"zero":false},
"axis":{"orient":"bottom","offset":-57,"values":[50.625,50.875,51.125,51.375,51.625,51.875,52.125],"tickSize":-4,"tickWidth":1,"tickColor":"#333","labels":false,"domain":false,"title":null,"grid":false}},"y2":{"datum":0}}},
{"data":{"name":"ccal"},"mark":{"type":"line","color":"#333","strokeWidth":1,"interpolate":"monotone"}},
{"data":{"values":[{"t":50.4875,"v":107.7,"s":"Cu"},{"t":50.721,"v":107.7,"s":"Ni"},{"t":50.9625,"v":107.7,"s":"(002)"}]},"mark":{"type":"text","align":"left","baseline":"alphabetic","fontSize":20,"color":"#000"},"encoding":{"text":{"field":"s"}}},
{"data":{"values":[{"t":50.742,"v":85.3,"s":"51.36°"}]},"mark":{"type":"text","align":"left","baseline":"alphabetic","fontSize":19,"color":"#000"},"encoding":{"text":{"field":"s"}}},
{"data":{"values":[{"t":50.5875,"v":105.0,"s":"0.502"},{"t":50.808,"v":105.0,"s":"0.498"}]},"mark":{"type":"text","align":"left","baseline":"alphabetic","fontSize":14,"color":"#000"},"encoding":{"text":{"field":"s"}}},
{"data":{"values":[{"t":52.208,"v":124.6,"s":"c"}]},"mark":{"type":"text","align":"center","baseline":"middle","fontSize":40,"color":"#000"},"encoding":{"text":{"field":"s"}}},
{"data":{"values":[{"t":51.179,"v":109.0,"t2":51.314,"v2":101.5}]},"mark":{"type":"rule","color":"#222","strokeWidth":1},"encoding":{"x2":{"field":"t2"},"y2":{"field":"v2"}}},
{"data":{"values":[{"t":51.314,"v":101.5}]},"mark":{"type":"point","shape":"triangle","filled":true,"color":"#111","size":40,"angle":109,"opacity":1}}
]
}
],
"spacing":0,"bounds":"flush"
}
],
"spacing":0,"bounds":"flush"
}
